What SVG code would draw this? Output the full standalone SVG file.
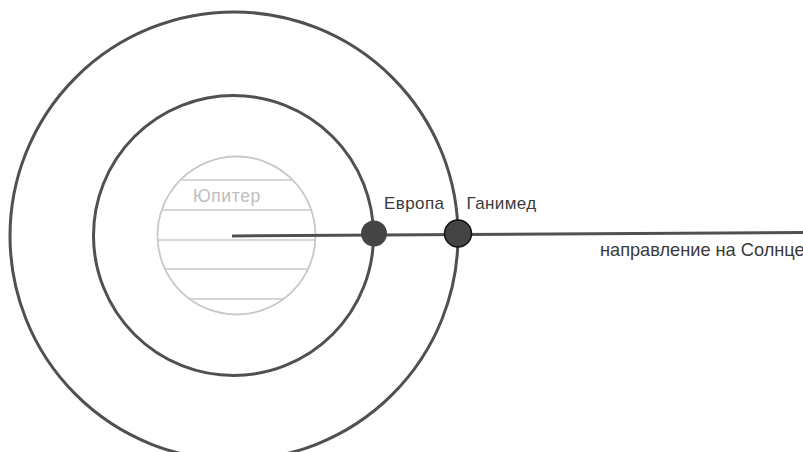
<svg xmlns="http://www.w3.org/2000/svg" width="803" height="452" viewBox="0 0 803 452">
<style>
.orbit{fill:none;stroke:#505050;stroke-width:3}
.stripe{stroke:#c8c8c8;stroke-width:1.5}
.lbl{font-family:"Liberation Sans",Arial,sans-serif;font-size:17px;letter-spacing:0.4px;fill:#3a3a3a}
.moon{fill:#444}
</style>
<rect width="803" height="452" fill="#fff"/>
<g id="orbit-ganymede"><circle class="orbit" cx="234" cy="236" r="224"/></g>
<g id="orbit-europa"><circle class="orbit" cx="233.5" cy="235.5" r="140"/></g>
<g id="jupiter">
<circle cx="236.5" cy="235.5" r="79" fill="#fff" stroke="#c8c8c8" stroke-width="1.8"/>
<line class="stripe" x1="182" y1="180" x2="292" y2="180"/>
<line class="stripe" x1="161" y1="210" x2="311" y2="210"/>
<line class="stripe" x1="158" y1="240" x2="315" y2="240"/>
<line class="stripe" x1="165" y1="269" x2="308" y2="269"/>
<line class="stripe" x1="188" y1="299" x2="284" y2="299"/>
<text x="193" y="202" font-family="Liberation Sans, Arial, sans-serif" font-size="17.5" letter-spacing="0.6" fill="#bdbdbd">Юпитер</text>
</g>
<g id="connectors">
<line x1="232" y1="236" x2="803" y2="232.5" stroke="#505050" stroke-width="3"/>
</g>
<g id="europa">
<circle class="moon" cx="374" cy="233.5" r="13"/>
<text class="lbl" x="384" y="209">Европа</text>
</g>
<g id="ganymede">
<circle class="moon" cx="458" cy="233.5" r="13.5" stroke="#111" stroke-width="1.5"/>
<text class="lbl" x="466.5" y="208.5">Ганимед</text>
</g>
<g id="sun-direction">
<text class="lbl" x="600" y="256" style="font-size:18.2px;letter-spacing:0">направление на Солнце</text>
</g>
</svg>
